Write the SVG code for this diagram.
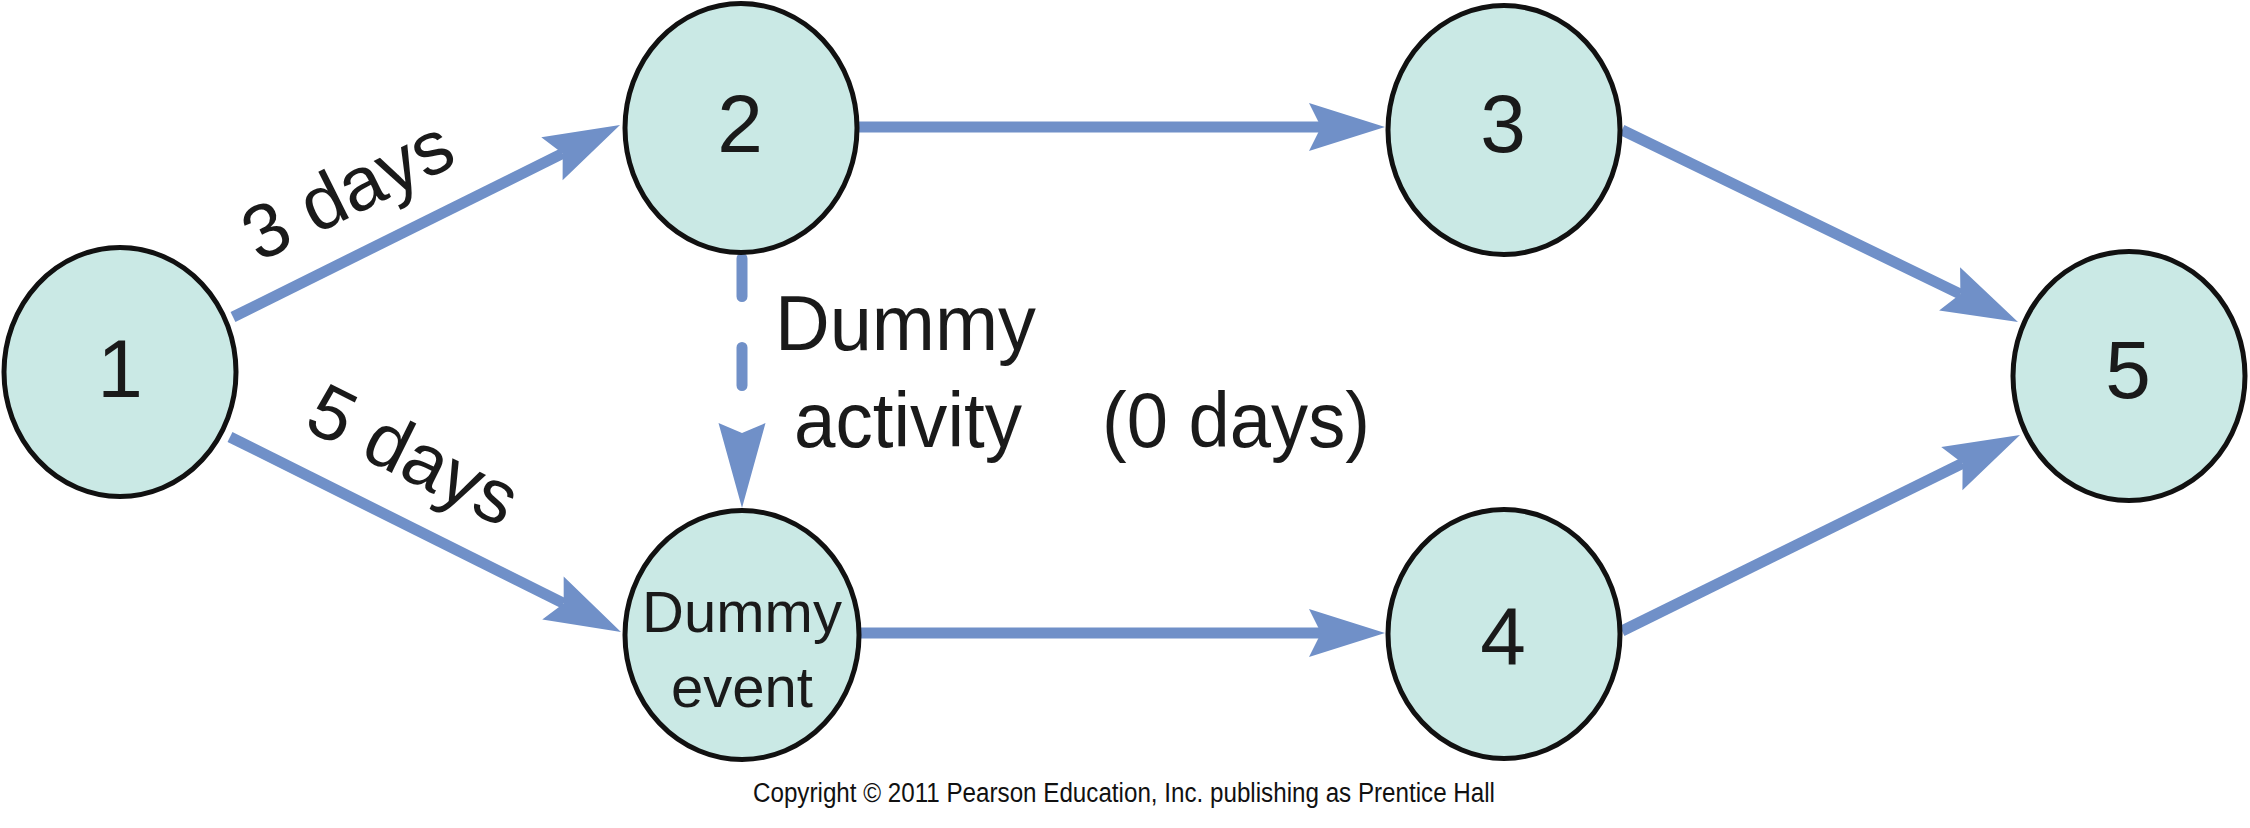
<svg xmlns="http://www.w3.org/2000/svg" width="2250" height="828" viewBox="0 0 2250 828">
<style>
.node{fill:#cae9e5;stroke:#111;stroke-width:5}
.num{font-family:"Liberation Sans",Arial,sans-serif;font-size:82px;fill:#1a1a1a;text-anchor:middle}
.ntxt{font-family:"Liberation Sans",Arial,sans-serif;font-size:58px;fill:#1a1a1a;text-anchor:middle}
.lbl{font-family:"Liberation Sans",Arial,sans-serif;font-size:76px;fill:#1a1a1a}
.cond{font-family:"Liberation Sans",Arial,sans-serif;font-size:78px;fill:#1a1a1a}
.edge{stroke:#7090c8;stroke-width:11;fill:none;marker-end:url(#ah)}
.dash{stroke:#7090c8;stroke-width:11;fill:none;stroke-dasharray:38 51;stroke-linecap:round;marker-end:url(#ah2)}
.copy{font-family:"Liberation Sans",Arial,sans-serif;font-size:27px;fill:#111}
</style>
<defs>
<marker id="ah" markerUnits="userSpaceOnUse" orient="auto" overflow="visible" markerWidth="1" markerHeight="1" refX="0" refY="0">
<path d="M64,0 L-12,-24 L0,0 L-12,24 Z" fill="#7090c8"/>
</marker>
<marker id="ah2" markerUnits="userSpaceOnUse" orient="auto" overflow="visible" markerWidth="1" markerHeight="1" refX="0" refY="0">
<path d="M78,0 L-7,-23.5 L3,0 L-7,23.5 Z" fill="#7090c8"/>
</marker>
</defs>
<rect width="2250" height="828" fill="#fff"/>
<g id="connectors">
<line class="edge" x1="233" y1="317" x2="562.7" y2="153.4"/>
<line class="edge" x1="230" y1="437" x2="563.7" y2="603.4"/>
<line class="edge" x1="858" y1="127" x2="1321" y2="127"/>
<line class="edge" x1="860" y1="633" x2="1321" y2="633"/>
<line class="edge" x1="1622" y1="130" x2="1960.4" y2="294.1"/>
<line class="edge" x1="1622" y1="631" x2="1962.6" y2="463.3"/>
<line class="dash" x1="742" y1="258.5" x2="742" y2="430"/>
<text class="lbl" text-anchor="middle" transform="translate(359,213) rotate(-26.4)">3 days</text>
<text class="lbl" text-anchor="middle" transform="translate(402,478) rotate(26.5)">5 days</text>
<text class="cond" x="775" y="350" textLength="261" lengthAdjust="spacingAndGlyphs">Dummy</text>
<text class="cond" x="794" y="447" textLength="228" lengthAdjust="spacingAndGlyphs">activity</text>
<text class="cond" x="1102" y="447" textLength="268" lengthAdjust="spacingAndGlyphs">(0 days)</text>
</g>
<g id="node1"><ellipse class="node" cx="120" cy="372" rx="116" ry="124.5"/><text class="num" x="120" y="397">1</text></g>
<g id="node2"><ellipse class="node" cx="741" cy="128" rx="116" ry="124.5"/><text class="num" x="740" y="152">2</text></g>
<g id="node3"><ellipse class="node" cx="1504" cy="130" rx="116" ry="124.5"/><text class="num" x="1503" y="152">3</text></g>
<g id="nodeDummy"><ellipse class="node" cx="742" cy="635" rx="117" ry="124.5"/><text class="ntxt" x="742" y="632">Dummy</text><text class="ntxt" x="742" y="707">event</text></g>
<g id="node4"><ellipse class="node" cx="1504" cy="634" rx="116" ry="124.5"/><text class="num" x="1503" y="665">4</text></g>
<g id="node5"><ellipse class="node" cx="2129" cy="376" rx="116" ry="124.5"/><text class="num" x="2128" y="398">5</text></g>
<text class="copy" x="753" y="802" textLength="742" lengthAdjust="spacingAndGlyphs">Copyright © 2011 Pearson Education, Inc. publishing as Prentice Hall</text>
</svg>
